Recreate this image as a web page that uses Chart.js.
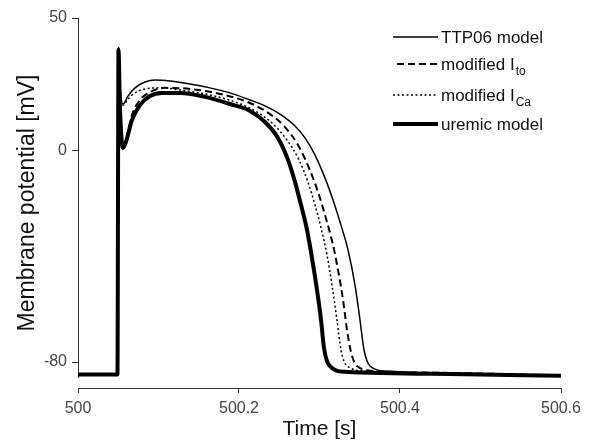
<!DOCTYPE html>
<html>
<head>
<meta charset="utf-8">
<script src="https://cdn.jsdelivr.net/npm/chart.js@4/dist/chart.umd.min.js"></script>
<style>
html,body{margin:0;padding:0;background:#fff;}
#wrap{width:593px;height:442px;}
</style>
</head>
<body>
<div id="wrap"><canvas id="c" width="593" height="442"></canvas></div>
<script>
// ---- data ----
const xTicks = [500, 500.2, 500.4, 500.6];
const xTickLabels = ["500", "500.2", "500.4", "500.6"];
const yTicks = [-80, 0, 50];
const yTickLabels = ["-80", "0", "50"];

const seriesLabels = ["TTP06 model", "modified I_to", "modified I_Ca", "uremic model"];

const ttpT = [500, 500.049, 500.0503, 500.0522, 500.0559, 500.0621, 500.0708, 500.0832, 500.0957, 500.1143, 500.1391, 500.164, 500.1888, 500.2137, 500.2323, 500.2509, 500.2696, 500.282, 500.2944, 500.3068, 500.3168, 500.3255, 500.3354, 500.3441, 500.3503, 500.3553, 500.3627, 500.3814, 500.4621, 500.6];
const ttpV = [-84.7, -84.7, 39.0, 24.7, 17.5, 20.5, 23.6, 25.8, 26.6, 26.2, 25.1, 23.6, 21.7, 19.0, 16.8, 13.7, 9.2, 4.7, -1.8, -10.4, -18.8, -27.1, -37.6, -50.9, -64.1, -75.4, -81.5, -83.4, -84.1, -85.1];

const itoT = [500, 500.049, 500.0503, 500.0522, 500.0559, 500.0596, 500.0671, 500.077, 500.0894, 500.1081, 500.1391, 500.1764, 500.2137, 500.2385, 500.2571, 500.2733, 500.287, 500.2981, 500.3068, 500.3168, 500.323, 500.3292, 500.3342, 500.3391, 500.3466, 500.3689, 500.4621, 500.6];
const itoV = [-84.7, -84.7, 38.7, 19.0, 1.6, 3.9, 13.4, 19.0, 22.0, 23.6, 23.2, 21.3, 17.9, 13.7, 8.8, 2.0, -6.7, -15.7, -24.4, -35.8, -45.2, -56.5, -67.9, -76.2, -81.5, -83.4, -84.1, -85.1];

const icaT = [500, 500.049, 500.0503, 500.0522, 500.0559, 500.0621, 500.0708, 500.0832, 500.1019, 500.1267, 500.164, 500.195, 500.2199, 500.241, 500.2596, 500.2745, 500.2857, 500.2944, 500.3019, 500.3093, 500.3155, 500.3217, 500.3267, 500.3342, 500.3602, 500.4621, 500.6];
const icaV = [-84.7, -84.7, 38.7, 23.6, 17.1, 19.4, 21.7, 23.2, 23.6, 22.8, 20.9, 18.3, 14.9, 10.3, 3.9, -3.6, -12.0, -20.6, -29.3, -39.5, -50.9, -64.1, -75.4, -81.5, -83.5, -84.3, -85.1];

const uremT = [500, 500.049, 500.0503, 500.0522, 500.0559, 500.0596, 500.0671, 500.077, 500.0894, 500.1043, 500.1267, 500.1578, 500.1888, 500.2137, 500.2323, 500.2484, 500.2609, 500.2696, 500.277, 500.2845, 500.2907, 500.2969, 500.3019, 500.3056, 500.3118, 500.3317, 500.4621, 500.6];
const uremV = [-84.7, -84.7, 37.9, 15.2, 0.9, 3.2, 11.5, 17.1, 20.5, 21.7, 21.7, 20.2, 17.5, 14.9, 10.7, 4.7, -3.6, -12.0, -20.6, -30.1, -40.7, -52.8, -64.1, -74.7, -81.1, -83.7, -84.5, -85.2];

const yAxisLineBottom = -86; // where the drawn y-axis spine ends

// ---- build ----
function pts(ts, vs){ return ts.map((t,i)=>({x:t, y:vs[i]})); }

const styles = [
  {borderWidth:1.5, borderDash:[]},
  {borderWidth:2, borderDash:[7,4]},
  {borderWidth:1.5, borderDash:[2,2.5]},
  {borderWidth:4, borderDash:[]}
];
const seriesData = [pts(ttpT,ttpV), pts(itoT,itoV), pts(icaT,icaV), pts(uremT,uremV)];

const datasets = seriesData.map((d,i)=>({
  label: seriesLabels[i],
  data: d,
  borderColor: '#000',
  backgroundColor: '#000',
  borderWidth: styles[i].borderWidth,
  borderDash: styles[i].borderDash,
  pointRadius: 0,
  fill: false,
  tension: 0,
  cubicInterpolationMode: 'monotone'
}));

const FONT = "'Liberation Sans', Arial, sans-serif";

const yAxisLinePlugin = {
  id: 'yAxisLine',
  beforeDatasetsDraw(chart){
    const {ctx, chartArea, scales:{y}} = chart;
    ctx.save();
    ctx.strokeStyle = '#333';
    ctx.lineWidth = 1;
    ctx.beginPath();
    const x0 = Math.round(chartArea.left) + 0.5;
    ctx.moveTo(x0, y.getPixelForValue(y.max));
    ctx.lineTo(x0, y.getPixelForValue(yAxisLineBottom));
    ctx.stroke();
    ctx.restore();
  }
};

const legendPlugin = {
  id: 'subLegend',
  afterDatasetsDraw(chart){
    const ctx = chart.ctx;
    const lineX0 = 393, lineX1 = 438, textX = 441, top = 37;
    const rowOffsets = [0, 27, 58, 87];
    ctx.save();
    chart.data.datasets.forEach((ds,i)=>{
      const y = top + rowOffsets[i];
      ctx.strokeStyle = ds.borderColor;
      ctx.lineWidth = ds.borderWidth;
      ctx.setLineDash(ds.borderDash || []);
      ctx.beginPath();
      const start = (ds.borderDash && ds.borderDash[0] > 4) ? lineX0 + 4 : lineX0;
      ctx.moveTo(start, y);
      ctx.lineTo(lineX1, y);
      ctx.stroke();
      ctx.setLineDash([]);
      const parts = ds.label.split('_');
      ctx.fillStyle = '#111';
      ctx.textBaseline = 'middle';
      ctx.textAlign = 'left';
      ctx.font = "17px " + FONT;
      ctx.fillText(parts[0], textX, y + 1);
      if (parts[1]) {
        const w = ctx.measureText(parts[0]).width;
        ctx.font = "12px " + FONT;
        ctx.fillText(parts[1], textX + w + 1, y + 8);
      }
    });
    ctx.restore();
  }
};

new Chart(document.getElementById('c'), {
  type: 'line',
  data: { datasets },
  options: {
    responsive: false,
    animation: false,
    devicePixelRatio: 1,
    layout: { padding: { left: 0, right: 32, top: 18, bottom: 0 } },
    plugins: { legend: { display: false }, tooltip: { enabled: false } },
    scales: {
      x: {
        type: 'linear',
        min: 500, max: 500.6,
        afterBuildTicks: s => { s.ticks = xTicks.map(v=>({value:v})); },
        afterFit: s => { s.height = 54; },
        ticks: {
          callback: (v, i) => xTickLabels[i],
          color: '#444',
          font: { family: FONT, size: 16 },
          padding: 6,
          maxRotation: 0
        },
        grid: { display: true, drawOnChartArea: false, drawTicks: true, tickLength: 5, color: '#333' },
        border: { display: true, color: '#333', width: 1 },
        title: { display: true, text: 'Time [s]', color: '#111', font: { family: FONT, size: 21 }, padding: { top: 0, bottom: 0 } }
      },
      y: {
        type: 'linear',
        min: -89.8, max: 50,
        afterBuildTicks: s => { s.ticks = yTicks.map(v=>({value:v})); },
        afterFit: s => { s.width = 78; },
        ticks: {
          callback: (v, i) => yTickLabels[i],
          color: '#444',
          font: { family: FONT, size: 16 },
          padding: 5
        },
        grid: { display: true, drawOnChartArea: false, drawTicks: true, tickLength: 6, color: '#333' },
        border: { display: false },
        title: { display: true, text: 'Membrane potential [mV]', color: '#111', font: { family: FONT, size: 23 }, padding: { top: 14, bottom: 0 } }
      }
    }
  },
  plugins: [yAxisLinePlugin, legendPlugin]
});
</script>
</body>
</html>
